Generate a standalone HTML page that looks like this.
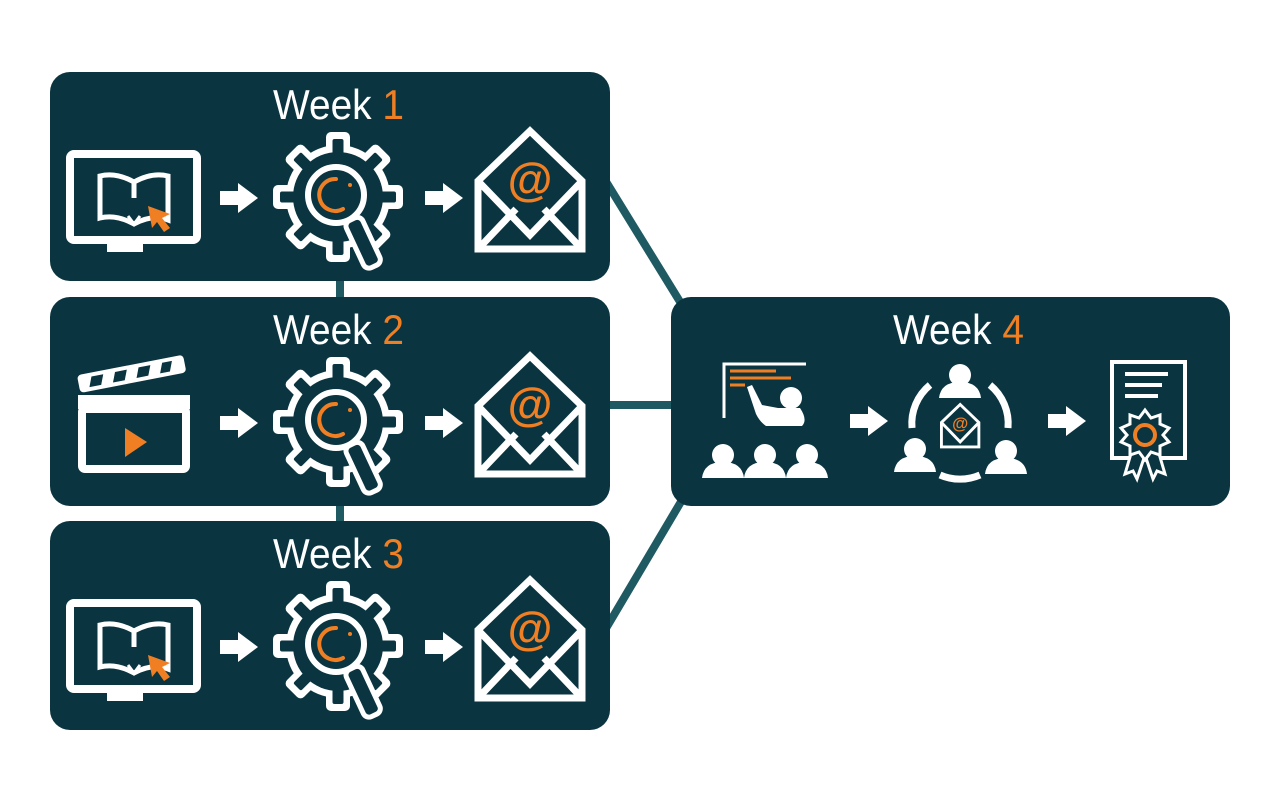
<!DOCTYPE html>
<html><head><meta charset="utf-8"><style>html,body{margin:0;padding:0;background:#fff}svg{display:block}</style></head>
<body>
<svg width="1280" height="804" viewBox="0 0 1280 804" xmlns="http://www.w3.org/2000/svg">
<defs>
<g id="gear">
  <g fill="#fff">
    <circle cx="0" cy="0" r="52"/>
    <rect x="-12" y="-65" width="24" height="30" rx="5"/>
    <rect x="-12" y="-65" width="24" height="30" rx="5" transform="rotate(45)"/>
    <rect x="-12" y="-65" width="24" height="30" rx="5" transform="rotate(90)"/>
    <rect x="-12" y="-65" width="24" height="30" rx="5" transform="rotate(135)"/>
    <rect x="-12" y="-65" width="24" height="30" rx="5" transform="rotate(180)"/>
    <rect x="-12" y="-65" width="24" height="30" rx="5" transform="rotate(225)"/>
    <rect x="-12" y="-65" width="24" height="30" rx="5" transform="rotate(270)"/>
    <rect x="-12" y="-65" width="24" height="30" rx="5" transform="rotate(315)"/>
  </g>
  <g fill="#0a3540">
    <circle cx="0" cy="0" r="45"/>
    <rect x="-5.5" y="-58" width="11" height="30" rx="2"/>
    <rect x="-5.5" y="-58" width="11" height="30" rx="2" transform="rotate(45)"/>
    <rect x="-5.5" y="-58" width="11" height="30" rx="2" transform="rotate(90)"/>
    <rect x="-5.5" y="-58" width="11" height="30" rx="2" transform="rotate(135)"/>
    <rect x="-5.5" y="-58" width="11" height="30" rx="2" transform="rotate(180)"/>
    <rect x="-5.5" y="-58" width="11" height="30" rx="2" transform="rotate(225)"/>
    <rect x="-5.5" y="-58" width="11" height="30" rx="2" transform="rotate(270)"/>
    <rect x="-5.5" y="-58" width="11" height="30" rx="2" transform="rotate(315)"/>
  </g>
  <g transform="rotate(-25 15 24)">
    <rect x="6" y="22" width="18" height="52" rx="6" fill="#0a3540" stroke="#fff" stroke-width="5"/>
  </g>
  <circle cx="-2" cy="-2" r="28" fill="#0a3540" stroke="#fff" stroke-width="6"/>
  <path d="M -2 -18 A 16 16 0 1 0 5 12" fill="none" stroke="#f07f23" stroke-width="4" stroke-linecap="round"/>
  <circle cx="12" cy="-12" r="2" fill="#f07f23"/>
</g>
<g id="arrow">
  <polygon points="0,8 18,8 18,0 38,15 18,30 18,22 0,22" fill="#fff"/>
</g>
<g id="env">
  <path d="M4 54 L56 4 L108 54 L108 122 L4 122 Z" fill="none" stroke="#fff" stroke-width="7" stroke-linejoin="miter"/>
  <path d="M4 54 L56 108 L108 54" fill="none" stroke="#fff" stroke-width="7"/>
  <path d="M6 120 L42 82 M106 120 L70 82" stroke="#fff" stroke-width="7"/>
  <text x="56" y="68" text-anchor="middle" font-family="Liberation Sans, sans-serif" font-size="46" font-weight="bold" fill="#f07f23">@</text>
</g>
<g id="monitor">
  <rect x="4" y="4" width="127" height="86" rx="4" fill="none" stroke="#fff" stroke-width="8"/>
  <rect x="41" y="94" width="36" height="8" fill="#fff"/>
  <path d="M34 26 L34 68 Q50 64 68 74 Q86 64 102 70 L102 26 Q86 22 68 32 Q50 22 34 26 Z" fill="none" stroke="#fff" stroke-width="5"/>
  <path d="M68 32 L68 48" stroke="#fff" stroke-width="5"/>
  <path d="M62 66 L68 74 L74 66" fill="none" stroke="#fff" stroke-width="3"/>
  <polygon points="82,56 104,64 96,68 104,78 98,82 91,72 86,78" fill="#f07f23"/>
</g>
</defs>

<g stroke="#1f5a63" stroke-width="8" fill="none">
  <line x1="340" y1="275" x2="340" y2="305"/>
  <line x1="340" y1="500" x2="340" y2="530"/>
  <line x1="605" y1="180" x2="682" y2="305"/>
  <line x1="605" y1="405" x2="680" y2="405"/>
  <line x1="605" y1="630" x2="682" y2="500"/>
</g>

<g fill="#0a3540">
  <rect x="50" y="72" width="560" height="209" rx="20"/>
  <rect x="50" y="297" width="560" height="209" rx="20"/>
  <rect x="50" y="521" width="560" height="209" rx="20"/>
  <rect x="671" y="297" width="559" height="209" rx="20"/>
</g>

<g font-family="Liberation Sans Narrow, Liberation Sans, sans-serif" font-size="42" fill="#fff">
  <text x="273" y="119" textLength="131" lengthAdjust="spacingAndGlyphs">Week <tspan fill="#f07f23">1</tspan></text>
  <text x="273" y="344" textLength="131" lengthAdjust="spacingAndGlyphs">Week <tspan fill="#f07f23">2</tspan></text>
  <text x="273" y="568" textLength="131" lengthAdjust="spacingAndGlyphs">Week <tspan fill="#f07f23">3</tspan></text>
  <text x="893" y="344" textLength="131" lengthAdjust="spacingAndGlyphs">Week <tspan fill="#f07f23">4</tspan></text>
</g>

<use href="#monitor" x="66" y="150"/>
<use href="#arrow" x="220" y="183"/>
<use href="#gear" x="338" y="197"/>
<use href="#arrow" x="425" y="183"/>
<use href="#env" x="474" y="127"/>

<g transform="translate(0,225)">
  <g>
    <rect x="82" y="184" width="104" height="60" rx="3" fill="none" stroke="#fff" stroke-width="8"/>
    <g transform="rotate(-11 80 166)">
      <rect x="80" y="150" width="108" height="18" rx="4" fill="#fff"/>
      <g fill="#0a3540">
        <polygon points="94,154 106,154 102,164 90,164"/>
        <polygon points="118,154 130,154 126,164 114,164"/>
        <polygon points="142,154 154,154 150,164 138,164"/>
        <polygon points="166,154 176,154 172,164 162,164"/>
      </g>
    </g>
    <rect x="78" y="170" width="112" height="14" fill="#fff"/>
    <polygon points="125,203 147,217 125,232" fill="#f07f23"/>
  </g>
  <use href="#arrow" x="220" y="183"/>
  <use href="#gear" x="338" y="197"/>
  <use href="#arrow" x="425" y="183"/>
  <use href="#env" x="474" y="127"/>
</g>

<g transform="translate(0,449)">
  <use href="#monitor" x="66" y="150"/>
  <use href="#arrow" x="220" y="183"/>
  <use href="#gear" x="338" y="197"/>
  <use href="#arrow" x="425" y="183"/>
  <use href="#env" x="474" y="127"/>
</g>

<g fill="#fff">
  <path d="M724 418 L724 364 L806 364" fill="none" stroke="#fff" stroke-width="3"/>
  <g stroke="#f07f23" stroke-width="3">
    <line x1="730" y1="371" x2="776" y2="371"/>
    <line x1="730" y1="378" x2="791" y2="378"/>
    <line x1="730" y1="385" x2="745" y2="385"/>
  </g>
  <path d="M747 387 L752 385 L762 405 L778 408 L800 408 Q808 420 802 426 L766 426 Q760 422 756 414 Z"/>
  <circle cx="791" cy="398" r="11"/>
  <g id="person">
    <circle cx="723" cy="455" r="11"/>
    <path d="M702 478 Q704 462 723 462 Q742 462 744 478 Z"/>
  </g>
  <use href="#person" x="42"/>
  <use href="#person" x="84"/>
  <g fill="none" stroke="#fff" stroke-width="7">
    <path d="M 912 428 A 50 50 0 0 1 930 385"/>
    <path d="M 990 385 A 50 50 0 0 1 1008 428"/>
    <path d="M 940 475 A 50 50 0 0 0 980 475"/>
  </g>
  <use href="#person" x="237" y="-80"/>
  <use href="#person" x="192" y="-6"/>
  <use href="#person" x="283" y="-4"/>
  <g transform="translate(940,403) scale(0.36)">
    <path d="M4 54 L56 4 L108 54 L108 122 L4 122 Z" fill="none" stroke="#fff" stroke-width="8"/>
    <path d="M4 54 L56 108 L108 54" fill="none" stroke="#fff" stroke-width="8"/>
    <text x="56" y="72" text-anchor="middle" font-family="Liberation Sans, sans-serif" font-size="46" font-weight="bold" fill="#f07f23">@</text>
  </g>
  <rect x="1112" y="362" width="73" height="96" fill="none" stroke="#fff" stroke-width="4"/>
  <g stroke="#fff" stroke-width="4">
    <line x1="1125" y1="374" x2="1168" y2="374"/>
    <line x1="1125" y1="385" x2="1162" y2="385"/>
    <line x1="1125" y1="396" x2="1158" y2="396"/>
  </g>
  <path d="M1135 440 L1125 474 L1133 471 L1137 479 L1145 455 L1153 479 L1157 471 L1165 474 L1155 440 Z" fill="#0a3540" stroke="#fff" stroke-width="3"/>
  <polygon points="1145,410 1151,418 1160,415 1160,424 1169,428 1163,435 1169,442 1160,446 1160,455 1151,452 1145,460 1139,452 1130,455 1130,446 1121,442 1127,435 1121,428 1130,424 1130,415 1139,418" fill="#0a3540" stroke="#fff" stroke-width="3"/>
  <circle cx="1145" cy="435" r="10" fill="none" stroke="#f07f23" stroke-width="4"/>
</g>
<use href="#arrow" x="850" y="406"/>
<use href="#arrow" x="1048" y="406"/>
</svg>
</body></html>
